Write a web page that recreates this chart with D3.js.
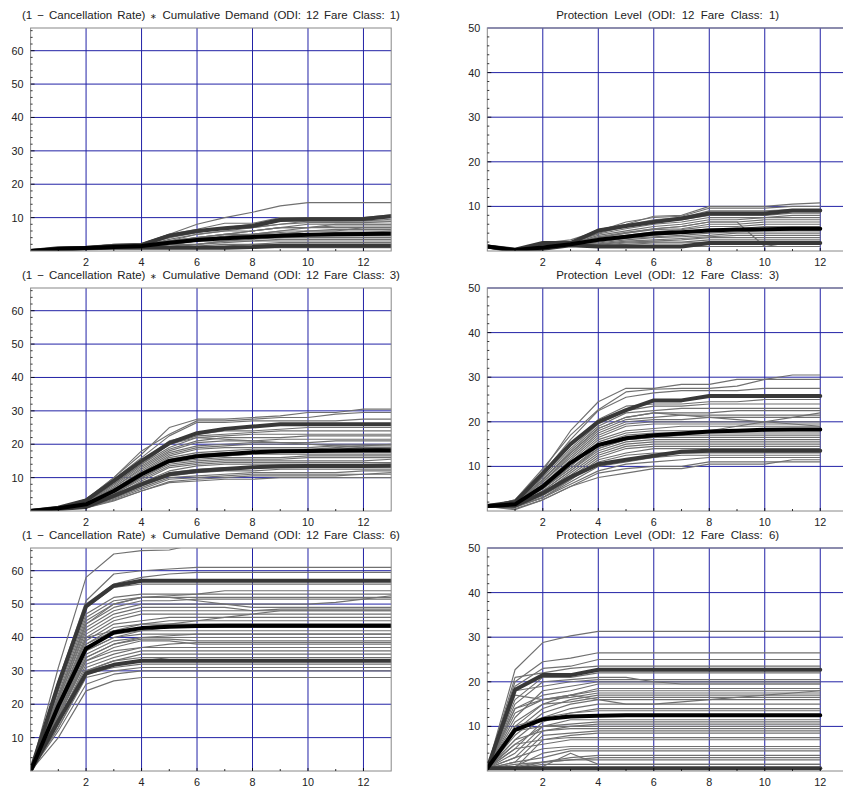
<!DOCTYPE html>
<html>
<head>
<meta charset="utf-8">
<script src="https://cdn.jsdelivr.net/npm/d3@7"></script>
<style>
  body { margin: 0; background: #fff; }
  svg { display: block; font-family: "Liberation Sans", Arial, Helvetica, sans-serif; }
</style>
</head>
<body>
<svg id="chart" width="843" height="789"></svg>
<script>
// ---- data ----
const stepsDemand = [0, 1, 2, 3, 4, 5, 6, 7, 8, 9, 10, 11, 12, 13];
const stepsProtect = [0, 1, 2, 3, 4, 5, 6, 7, 8, 9, 10, 11, 12];
const xTickLabels = [2, 4, 6, 8, 10, 12];
const demandYTicks = [10, 20, 30, 40, 50, 60];
const protectYTicks = [10, 20, 30, 40, 50];
const fareClasses = [1, 3, 6];
const odi = 12;

// fare class 1
const demand1Upper = [0, 0.8, 1, 1.5, 1.8, 4.6, 6, 6.8, 7.5, 9.3, 9.5, 9.5, 9.6, 10.4];
const demand1Mean = [0, 0.6, 0.9, 1.2, 1.5, 2.5, 3.3, 3.8, 4.2, 4.6, 4.9, 5.0, 5.1, 5.2];
const demand1Lower = [0, 0.4, 0.8, 1, 1, 1, 1, 1, 1.2, 1.6, 1.6, 1.6, 1.6, 1.6];
const demand1Gray = [
  [0, 1, 1.2, 2, 2.2, 5, 8, 10, 11.6, 13.5, 14.5, 14.5, 14.5, 14.5],
  [0, 1, 1.2, 2, 2, 5, 6.5, 8.3, 8.3, 10, 10, 10, 10, 10.8],
  [0, 0.8, 1, 1.8, 2, 4.5, 6, 7, 8, 9.8, 9.8, 9.8, 9.8, 10.2],
  [0, 0.6, 1, 1.5, 2, 4, 5.5, 7, 7, 9, 9, 9, 9, 9.5],
  [0, 0.8, 1, 1.2, 1.5, 3.5, 5, 6, 7, 8, 8.5, 8.5, 8.5, 8.8],
  [0, 0.5, 1, 1.2, 2, 3, 5, 6, 6, 7, 8, 8, 8, 8],
  [0, 0.8, 1, 1, 1.5, 3, 4, 5, 6, 7, 7, 7.5, 7.5, 7.5],
  [0, 0.4, 0.8, 1, 2, 3, 4, 5, 5, 6, 7, 7, 7, 7],
  [0, 0.8, 1, 1, 1.2, 2, 4, 4, 5, 6, 6, 6.5, 6.5, 6.5],
  [0, 0.5, 1, 1, 1, 2, 3, 4, 5, 5, 6, 6, 6, 6],
  [0, 0.8, 1, 1, 2, 3, 3, 4, 4, 5, 5, 5.5, 5.5, 5.5],
  [0, 0.4, 1, 1, 1, 2, 3, 3, 4, 4, 4.5, 4.5, 4.5, 4.5],
  [0, 0.8, 1, 1, 1.2, 2, 2, 3, 3.5, 4, 4, 4, 4, 4],
  [0, 0.5, 1, 1, 1, 1.5, 2, 3, 3, 3.5, 3.5, 3.5, 3.5, 3.5],
  [0, 0.8, 1, 1, 1, 1, 2, 2.5, 3, 3, 3, 3, 3, 3],
  [0, 0.4, 0.8, 1, 1, 1, 1.5, 2, 2, 2.5, 2.5, 2.5, 2.5, 2.5],
  [0, 0.6, 1, 1, 1, 1, 1, 1.5, 2, 2, 2, 2, 2, 2],
  [0, 0.4, 0.8, 1, 1, 1, 1, 1, 1, 1.5, 1.5, 1.5, 1.5, 1.5],
  [0, 0.3, 0.6, 1, 1, 1, 1, 1, 1, 1, 1, 1, 1, 1],
  [0, 0.8, 1, 1.5, 2, 4, 6, 7, 7, 8, 9, 9, 9, 9],
  [0, 0.5, 1, 1.2, 1.8, 3, 4, 5, 6, 7, 7, 8, 8, 8],
  [0, 0.8, 1, 1, 1, 2, 3, 4, 4, 5, 6, 6, 7, 7],
  [0, 0.6, 1, 1.2, 1.5, 2.5, 3.5, 4.5, 5, 5.5, 5, 5, 5.5, 6]
];
const protect1Upper = [1, 0.3, 1.8, 1.8, 4.6, 5.6, 6.5, 7.3, 8.4, 8.4, 8.4, 9.1, 9.1];
const protect1Mean = [1, 0.2, 0.8, 1.5, 2.5, 3.2, 3.9, 4.2, 4.6, 4.8, 4.9, 5, 5];
const protect1Lower = [1, 0, 0.5, 1.3, 1, 1, 1, 1, 1.8, 1.8, 1.8, 1.8, 1.8];
const protect1Gray = [
  [1, 0.3, 1.8, 2, 4.8, 6, 7.8, 8, 10, 10, 10, 10.5, 10.8],
  [1, 0.3, 1.8, 2.5, 4.5, 6.5, 7.5, 7.8, 9.6, 9.6, 9.6, 10, 10],
  [1, 0.2, 1.8, 2, 4.3, 5.8, 7, 7.5, 9, 9, 9, 9.3, 9.3],
  [1, 0.2, 1.6, 1.8, 4, 5.5, 6.8, 7, 8, 8, 8, 8.5, 8.5],
  [1, 0.3, 1.5, 1.8, 3.8, 5, 6, 6.5, 7.5, 7.5, 7.5, 8, 8],
  [1, 0.2, 1.5, 1.6, 3.5, 4.5, 5.5, 6, 7, 7, 7.5, 7.5, 7.5],
  [1, 0.2, 1.3, 1.6, 3.2, 4.2, 5, 5.5, 6.5, 6.5, 7, 7, 7],
  [1, 0.2, 1.2, 1.5, 3, 4, 4.8, 5, 6, 6, 6.5, 6.5, 6.5],
  [1, 0.2, 1, 1.5, 2.8, 3.5, 4.3, 4.8, 5.5, 5.5, 6, 6, 6],
  [1, 0.2, 1, 1.5, 2.5, 3.3, 4, 4.3, 5, 5, 5.5, 5.5, 5.5],
  [1, 0.2, 0.9, 1.5, 2.3, 3, 3.5, 4, 4.5, 4.8, 5, 5, 5],
  [1, 0.2, 0.8, 1.5, 2, 2.8, 3.2, 3.5, 4, 4.3, 4.5, 4.5, 4.5],
  [1, 0.2, 0.8, 1.4, 1.8, 2.5, 3, 3.2, 3.5, 4, 4, 4, 4],
  [1, 0.2, 0.7, 1.4, 1.6, 2.2, 2.5, 2.8, 3.2, 3.5, 3.5, 3.5, 3.5],
  [1, 0.2, 0.6, 1.4, 1.5, 2, 2.2, 2.5, 3, 3, 3, 3, 3],
  [1, 0.2, 0.6, 1.4, 1.3, 1.8, 2, 2, 2.5, 2.5, 2.5, 2.5, 2.5],
  [1, 0.2, 0.5, 1.3, 1.2, 1.5, 1.8, 1.8, 2, 2, 2, 2, 2],
  [1, 0.2, 0.5, 1.3, 1, 1.2, 1.2, 1.2, 1.5, 1.5, 1.5, 1.5, 1.5],
  [1, 0.2, 0.5, 1.3, 1, 1, 1, 1, 1, 1, 1, 1, 1],
  [1, 0.2, 1.5, 1.8, 3, 4, 5, 5.5, 6.5, 6.5, 1, 2, 2]
];

// fare class 3
const demand3Upper = [0, 1, 3.2, 9, 15, 20.3, 23.3, 24.6, 25.3, 26, 26, 26, 26, 26];
const demand3Mean = [0, 0.8, 2, 6, 11, 15, 16.4, 17, 17.6, 17.9, 18, 18.1, 18.2, 18.2];
const demand3Lower = [0, 0.6, 1.2, 4.5, 8, 11, 12, 12.6, 13.1, 13.4, 13.5, 13.5, 13.5, 13.6];
const demand3Gray = [
  [0, 1, 3.5, 10, 17, 25, 27.5, 27.5, 28, 28.5, 29.5, 29.5, 30.5, 30.5],
  [0, 1, 3.4, 10, 18, 23, 27, 27, 27.5, 28, 28, 29, 29.5, 29.5],
  [0, 1, 3.2, 9.5, 16, 22.5, 26.5, 26.5, 27, 27, 27, 27, 27.5, 27.5],
  [0, 1, 3, 9, 15, 21, 23, 24, 24, 24.5, 25, 25, 25, 25],
  [0, 1, 2.8, 8.5, 14.5, 20, 22.5, 23, 23.5, 24, 24, 24, 24, 24],
  [0, 0.9, 2.6, 8, 14, 19, 22, 22.5, 23, 23, 23, 23, 23, 23],
  [0, 0.9, 2.5, 7.5, 13.5, 18.5, 21, 22, 22, 22, 22.5, 22.5, 22.5, 22.5],
  [0, 0.9, 2.4, 7, 13, 18, 20.5, 21, 21, 21.5, 21.5, 21.5, 21.5, 21.5],
  [0, 0.9, 2.2, 7, 12.5, 17.5, 19.5, 20, 20.5, 20.5, 20.5, 21, 21, 21],
  [0, 0.8, 2.2, 6.5, 12, 17, 19, 19.5, 20, 20, 20, 20, 20, 20],
  [0, 0.8, 2, 6.5, 11.5, 16.5, 18.5, 19, 19, 19, 19, 19.5, 19.5, 19.5],
  [0, 0.8, 2, 6, 11, 16, 17.5, 18, 18.5, 18.5, 18.5, 18.5, 19, 19],
  [0, 0.8, 1.9, 6, 11, 15.5, 17, 17.5, 17.5, 17.5, 17.5, 17.5, 17.5, 17.5],
  [0, 0.8, 1.8, 5.5, 10.5, 15, 16.5, 16.5, 17, 17, 17, 17, 17, 17],
  [0, 0.7, 1.8, 5.5, 10, 14.5, 15.5, 16, 16, 16, 16.5, 16.5, 16.5, 16.5],
  [0, 0.7, 1.7, 5, 10, 14, 15, 15.5, 15.5, 15.5, 16, 16, 16, 16],
  [0, 0.7, 1.6, 5, 9.5, 13.5, 14.5, 15, 15, 15, 15, 15, 15, 15.5],
  [0, 0.7, 1.5, 4.5, 9, 13, 14, 14.5, 14.5, 14.5, 14.5, 14.5, 14.5, 14.5],
  [0, 0.7, 1.5, 4.5, 8.5, 12, 13.5, 14, 14, 14, 14, 14, 14, 14],
  [0, 0.6, 1.4, 4.2, 8, 11.5, 12.5, 13, 13, 13, 13, 13, 13, 13],
  [0, 0.6, 1.2, 4, 7.5, 10.5, 11.5, 12, 12, 12.5, 12.5, 12.5, 12.5, 12.5],
  [0, 0.6, 1.2, 3.8, 7, 10, 10.5, 11, 11.5, 11.5, 11.5, 11.5, 12, 12],
  [0, 0.6, 1, 3.5, 6.5, 9.5, 10, 10.5, 11, 11, 11, 11, 11, 11.5],
  [0, 0.5, 1, 3.2, 6, 8.5, 9, 9.5, 9.5, 10, 10, 10, 10, 10],
  [0, 0.5, 0.9, 3, 6, 8.8, 9.5, 10, 10.5, 10.5, 10.5, 10.5, 11, 11],
  [0, 0.9, 2.6, 8, 14, 20, 22, 21.5, 21, 20.5, 20, 19.5, 19, 18.5],
  [0, 0.8, 2, 6, 11, 15, 16, 16.5, 17, 18, 18.5, 19, 19.5, 20]
];
const protect3Upper = [1.1, 2, 8.4, 15, 20, 22.6, 24.8, 24.8, 25.8, 25.8, 25.8, 25.8, 25.8];
const protect3Mean = [1.1, 1.5, 5.5, 10.8, 14.8, 16.3, 17, 17.4, 17.8, 18, 18.2, 18.3, 18.3];
const protect3Lower = [1.1, 1.2, 4, 7.6, 10.5, 11.5, 12.4, 13.3, 13.5, 13.5, 13.5, 13.5, 13.5];
const protect3Gray = [
  [1, 2.5, 9, 18, 24.5, 27.5, 27.5, 28.4, 28.4, 29.5, 29.5, 30.5, 30.5],
  [1, 2.5, 9.5, 17, 22.7, 26.7, 27.3, 27.5, 27.5, 28, 29.5, 29.5, 29.5],
  [1, 2.2, 8.5, 16, 22.5, 25.5, 26.5, 27, 27, 27, 27.5, 27.5, 27.5],
  [1.2, 2, 8, 15, 20.5, 23.5, 24, 24, 24.5, 24.5, 25, 25, 25],
  [1, 2, 7.5, 14, 19.5, 22.5, 23.5, 23.5, 24, 24, 24, 24, 24],
  [1.2, 1.8, 7, 13.5, 19, 22, 22.5, 23, 23, 23, 23, 23, 23],
  [1, 1.8, 7, 13, 18.5, 21, 22, 22, 22, 22.5, 22.5, 22.5, 22.5],
  [1.3, 1.7, 6.5, 12.5, 18, 20.5, 21, 21.5, 21.5, 21.5, 21.5, 21.5, 21.5],
  [1, 1.7, 6.5, 12, 17.5, 20, 20.5, 20.5, 21, 21, 21, 21, 21],
  [1, 1.6, 6, 11.5, 17, 19.5, 20, 20, 20, 20, 20, 20, 20],
  [1.1, 1.5, 6, 11, 16.5, 19, 19.5, 19.5, 19.5, 19.5, 19.5, 19.5, 19.5],
  [1, 1.5, 5.5, 10.5, 16, 18, 18.5, 19, 19, 19, 19, 19, 19],
  [1.2, 1.5, 5.5, 10, 15.5, 17.5, 18, 18, 18, 18, 18, 18, 18],
  [1, 1.4, 5, 10, 15, 17, 17.5, 17.5, 17.5, 17.5, 17.5, 17.5, 17.5],
  [1, 1.4, 5, 9.5, 14.5, 16.5, 17, 17, 17, 17, 17, 17, 17],
  [1.1, 1.3, 4.5, 9, 14, 16, 16.5, 16.5, 16.5, 16.5, 16.5, 16.5, 16.5],
  [1, 1.3, 4.5, 9, 13.5, 15.5, 16, 16, 16, 16, 16, 16, 16],
  [1, 1.2, 4, 8.5, 13, 15, 15.5, 15.5, 15.5, 15.5, 15.5, 15.5, 15.5],
  [1.2, 1.2, 4, 8, 12.5, 14.5, 15, 15, 15, 15, 15, 15, 15],
  [1, 1.1, 3.5, 7.5, 12, 14, 14.5, 14.5, 14.5, 14.5, 14.5, 14.5, 14.5],
  [1, 1.1, 3.5, 7, 11.5, 13, 14, 14, 14, 14, 14, 14, 14],
  [1, 1, 3, 7, 11, 12.5, 13, 13, 13, 13, 13, 13, 13],
  [1, 1, 3, 6.5, 10, 11, 12, 12.5, 12.5, 12.5, 12.5, 12.5, 12.5],
  [1, 0.8, 3, 6, 9, 10.5, 11, 11.5, 12, 12, 12, 12, 12],
  [1, 0.5, 2.5, 5.5, 8.5, 9.5, 10, 10, 11, 11, 11, 11, 11],
  [1, 0.3, 2.5, 5.5, 7.5, 8.5, 9.5, 9.5, 10.5, 10.5, 10.5, 11.5, 11.5],
  [1, 1.8, 7, 13, 18.5, 21, 22, 21.5, 21, 20.5, 20, 19.5, 19],
  [1, 1.4, 5, 9.5, 14, 16, 16.5, 17, 18, 19, 20, 21, 22]
];

// fare class 6
const demand6Upper = [0, 26, 49.3, 55.5, 57, 57, 57, 57, 57, 57, 57, 57, 57, 57];
const demand6Mean = [0, 19.5, 36.7, 41.5, 42.8, 43.2, 43.4, 43.5, 43.5, 43.5, 43.5, 43.5, 43.5, 43.5];
const demand6Lower = [0, 15, 29.2, 31.8, 33, 33, 33, 33, 33, 33, 33, 33, 33, 33];
const demand6Gray = [
  [0, 31, 58, 65, 66, 66.2, 68, 68, 68, 68, 68, 68, 68, 68],
  [0, 27, 51, 59, 60, 60.5, 61, 61, 61, 61, 61, 61, 61, 61],
  [0, 26, 50, 56, 58, 59, 59.5, 59.5, 59.5, 59.5, 59.5, 59.5, 59.5, 59.5],
  [0, 25, 49, 55, 56, 56, 56, 56, 56, 56, 56, 56, 56, 56],
  [0, 24, 47, 52, 53, 53, 53, 53, 53, 53, 53, 53, 53, 53],
  [0, 23, 46, 51, 52, 52.5, 53, 54, 54, 54, 54, 54, 54, 54],
  [0, 22, 45, 50, 52, 52, 51, 50, 49, 49, 49, 49, 49, 49],
  [0, 22, 44, 49, 51, 51, 51.5, 51.5, 51.5, 51.5, 51.5, 51.5, 51.5, 51.5],
  [0, 21, 43, 48, 50, 50, 50, 50, 50, 50, 50, 50.5, 51.5, 52.5],
  [0, 21, 42, 47, 49, 49, 49, 49, 48, 48, 48, 48, 48, 48],
  [0, 20, 41, 46, 48, 48, 48, 48, 48, 48.5, 48.5, 48.5, 48.5, 48.5],
  [0, 20, 40, 45, 47, 47, 47, 47, 47, 47, 47, 47, 47, 47],
  [0, 19, 39, 44, 45, 46, 46, 46, 46, 46, 46, 46, 46, 46],
  [0, 19, 38, 43, 44, 45, 45, 45, 45, 45, 45, 45, 45, 45],
  [0, 18, 40, 42, 44, 44, 44, 44, 44, 44, 44, 44, 44, 44],
  [0, 18, 37, 41, 42, 42, 42, 42, 42, 42, 42, 42, 42, 42],
  [0, 17, 36, 40, 41, 41, 41, 41, 41, 41, 41, 41, 41, 41],
  [0, 17, 35, 39, 40, 40, 40, 40, 40, 40, 40, 40, 40, 40],
  [0, 16, 34, 38, 39.5, 39.5, 39, 39, 39, 39, 39, 39, 39, 39],
  [0, 16, 33, 37, 39, 39, 38, 38, 38, 38, 38, 38, 38, 38],
  [0, 16, 33, 36, 37, 38, 38.5, 38.5, 38.5, 38.5, 38.5, 38.5, 38.5, 38.5],
  [0, 15, 32, 35, 37, 37, 37, 37, 37, 37, 37, 37, 37, 37],
  [0, 15, 31, 34, 36, 36, 36, 36, 36, 36, 36, 36, 36, 36],
  [0, 14, 30, 33, 35, 35, 35, 35, 35, 35, 35, 35, 35, 35],
  [0, 14, 30, 33, 34, 34, 34, 34, 34, 34, 34, 34, 34, 34],
  [0, 13, 29, 31, 32, 32, 32, 32, 32, 32, 32, 32, 32, 32],
  [0, 13, 28, 30, 31, 31, 31, 31, 31, 31, 31, 31, 31, 31],
  [0, 12, 26, 29, 30, 30, 30, 30, 30, 30, 30, 30, 30, 30],
  [0, 10, 24, 27, 28, 28, 28, 28, 28, 28, 28, 28, 28, 28],
  [0, 22, 44, 50, 52, 52, 52, 52, 52, 52, 52, 52, 52, 52],
  [0, 19, 38, 42, 43, 44, 45, 46, 47, 48, 48, 48, 48, 48],
  [0, 18, 36, 40, 42, 43, 43, 43, 43, 43, 43, 43, 43, 43],
  [0, 17, 34, 38, 40, 40.5, 41, 41, 41, 41, 41, 41, 41, 41],
  [0, 15, 30, 32, 33, 34, 34, 34, 34, 34, 34, 34, 34, 34]
];
const protect6Upper = [0.6, 18.2, 21.5, 21.5, 22.7, 22.7, 22.7, 22.7, 22.7, 22.7, 22.7, 22.7, 22.7];
const protect6Mean = [0.6, 9.2, 11.6, 12.2, 12.4, 12.5, 12.5, 12.5, 12.5, 12.5, 12.5, 12.5, 12.5];
const protect6Lower = [0.6, 0.6, 0.6, 0.6, 0.6, 0.6, 0.6, 0.6, 0.6, 0.6, 0.6, 0.6, 0.6];
const protect6Gray = [
  [0.6, 22.7, 28.8, 30.3, 31.3, 31.3, 31.3, 31.3, 31.3, 31.3, 31.3, 31.3, 31.3],
  [0.6, 20, 24.5, 25.3, 26.5, 26.5, 26.5, 26.5, 26.5, 26.5, 26.5, 26.5, 26.5],
  [0.6, 19, 23, 23.5, 25, 25, 25, 25, 25, 25, 25, 25, 25],
  [0.6, 21, 22, 23, 23.5, 23.5, 23.5, 23.5, 23.5, 23.5, 23.5, 23.5, 23.5],
  [0.6, 16, 21, 21, 22, 22, 22, 22, 22, 22, 22, 22, 22],
  [0.6, 15, 20, 20.5, 21, 21, 20, 19.5, 19.5, 19.5, 19.5, 19.5, 19.5],
  [0.6, 18, 19, 20, 20.5, 20.5, 20.5, 20.5, 20.5, 20.5, 20.5, 20.5, 20.5],
  [0.6, 12, 18, 19, 20, 20, 20, 20, 20, 20, 20, 20, 20],
  [0.6, 14, 17, 18, 19.5, 19.5, 19.5, 19.5, 19.5, 19.5, 19.5, 19.5, 19.5],
  [0.6, 17, 16, 17, 18.5, 18.5, 18.5, 18.5, 18.5, 18.5, 18.5, 18.5, 18.5],
  [0.6, 10, 15, 17, 18, 18, 18, 18, 18, 18, 18, 18, 18],
  [0.6, 13, 16, 16.5, 17.5, 17.5, 17.5, 17.5, 17.5, 17.5, 17.5, 17.5, 17.5],
  [0.6, 9, 14, 16, 17, 17, 17, 17, 17, 17, 17, 17, 17],
  [0.6, 11, 15, 15.5, 16.5, 16.5, 16.5, 16.5, 16.5, 16.5, 16.5, 16.5, 16.5],
  [0.6, 8, 13, 15, 16, 16, 16, 16, 16, 16, 16, 16, 16],
  [0.6, 7, 12, 14, 15, 15, 15, 15, 15, 15, 15, 15, 15],
  [0.6, 10, 12, 13, 14, 14, 14, 14, 14, 14, 14, 14, 14],
  [0.6, 5, 11, 13, 13.5, 13.5, 13.5, 13.5, 13.5, 13.5, 13.5, 13.5, 13.5],
  [0.6, 6, 10, 11.5, 11.5, 11.5, 11.5, 11.5, 11.5, 11.5, 11.5, 11.5, 11.5],
  [0.6, 4, 10, 10.5, 11, 11, 11, 11, 11, 11, 11, 11, 11],
  [0.6, 9, 10, 10, 10.5, 10.5, 10.5, 10.5, 10.5, 10.5, 10.5, 10.5, 10.5],
  [0.6, 3, 9, 10, 10, 10, 10, 10, 10, 10, 10, 10, 10],
  [0.6, 7, 9, 9.5, 9.5, 9.5, 9.5, 9.5, 9.5, 9.5, 9.5, 9.5, 9.5],
  [0.6, 2, 8, 8.5, 9, 9, 9, 9, 9, 9, 9, 9, 9],
  [0.6, 6, 7, 8, 8.5, 8.5, 8.5, 8.5, 8.5, 8.5, 8.5, 8.5, 8.5],
  [0.6, 0.6, 7, 7.5, 7.5, 7.5, 7.5, 7.5, 7.5, 7.5, 7.5, 7.5, 7.5],
  [0.6, 5, 6, 7, 7, 7, 7, 7, 7, 7, 7, 7, 7],
  [0.6, 3, 5, 5.5, 5.5, 5.5, 5.5, 5.5, 5.5, 5.5, 5.5, 5.5, 5.5],
  [0.6, 1, 4, 5, 5, 5, 5, 5, 5, 5, 5, 5, 5],
  [0.6, 2, 3, 4.5, 4.5, 4.5, 4.5, 4.5, 4.5, 4.5, 4.5, 4.5, 4.5],
  [0.6, 0.6, 1, 4, 1.5, 1.5, 1.5, 1.5, 1.5, 1.5, 1.5, 1.5, 1.5],
  [0.6, 1.5, 2, 3, 3.5, 3.5, 3.5, 3.5, 3.5, 3.5, 3.5, 3.5, 3.5],
  [0.6, 0.6, 2, 2.5, 3, 3, 3, 3, 3, 3, 3, 3, 3],
  [0.6, 1, 2, 2.5, 2.5, 2.5, 2.5, 2.5, 2.5, 2.5, 2.5, 2.5, 2.5],
  [0.6, 0.6, 1.5, 1.5, 1.5, 1.5, 1.5, 1.5, 1.5, 1.5, 1.5, 1.5, 1.5],
  [0.6, 14, 16, 17, 16, 15, 15, 15.5, 16, 16.5, 17, 17.5, 18]
];

// ---- panels ----
const panels = [
  { row: 0, col: 0, steps: stepsDemand, gray: demand1Gray, upper: demand1Upper, mean: demand1Mean, lower: demand1Lower },
  { row: 0, col: 1, steps: stepsProtect, gray: protect1Gray, upper: protect1Upper, mean: protect1Mean, lower: protect1Lower },
  { row: 1, col: 0, steps: stepsDemand, gray: demand3Gray, upper: demand3Upper, mean: demand3Mean, lower: demand3Lower },
  { row: 1, col: 1, steps: stepsProtect, gray: protect3Gray, upper: protect3Upper, mean: protect3Mean, lower: protect3Lower },
  { row: 2, col: 0, steps: stepsDemand, gray: demand6Gray, upper: demand6Upper, mean: demand6Mean, lower: demand6Lower },
  { row: 2, col: 1, steps: stepsProtect, gray: protect6Gray, upper: protect6Upper, mean: protect6Mean, lower: protect6Lower }
];

const svg = d3.select("#chart");
const gridColor = "#2222a6";

panels.forEach((p, i) => {
  const top = 28 + 260 * p.row;
  const bottom = top + 223;
  const [left, right] = p.col === 0 ? [30.6, 391.2] : [487.3, 848];
  const yMax = p.col === 0 ? 66.8 : 50;
  const yTicks = p.col === 0 ? demandYTicks : protectYTicks;
  const fare = fareClasses[p.row];

  const x = d3.scaleLinear().domain([0, 13]).range([left, right]);
  const y = d3.scaleLinear().domain([0, yMax]).range([bottom, top]);

  const g = svg.append("g");

  g.append("clipPath").attr("id", "clip" + i)
    .append("rect")
    .attr("x", left).attr("y", top)
    .attr("width", right - left).attr("height", bottom - top);

  // grid lines
  g.selectAll(".vgrid").data(xTickLabels).join("line")
    .attr("x1", d => x(d)).attr("x2", d => x(d))
    .attr("y1", top).attr("y2", bottom)
    .attr("stroke", gridColor).attr("stroke-width", 1);
  g.selectAll(".hgrid").data(yTicks).join("line")
    .attr("x1", left).attr("x2", right)
    .attr("y1", d => y(d)).attr("y2", d => y(d))
    .attr("stroke", gridColor).attr("stroke-width", 1);

  // series
  const line = d3.line()
    .x((d, j) => x(p.steps[j]))
    .y(d => y(d));
  const data = g.append("g").attr("clip-path", `url(#clip${i})`)
    .attr("fill", "none")
    .attr("stroke-linejoin", "round")
    .attr("stroke-linecap", "round");

  data.selectAll(".path").data(p.gray).join("path")
    .attr("d", line)
    .attr("stroke", "#707070")
    .attr("stroke-width", 1.15);

  data.selectAll(".band").data([p.upper, p.lower]).join("path")
    .attr("d", line)
    .attr("stroke", "#383838")
    .attr("stroke-width", 4);

  data.append("path")
    .attr("d", line(p.mean))
    .attr("stroke", "#000")
    .attr("stroke-width", 4);

  // frame
  g.append("rect")
    .attr("x", left).attr("y", top)
    .attr("width", right - left).attr("height", bottom - top)
    .attr("fill", "none").attr("stroke", "#888").attr("stroke-width", 1);

  // frame ticks
  const yMinor = d3.range(2, yMax, 2);
  g.selectAll(".ytick").data(yMinor).join("line")
    .attr("x1", left).attr("x2", d => left + (d % 10 === 0 ? 4 : 2))
    .attr("y1", d => y(d)).attr("y2", d => y(d))
    .attr("stroke", "#000").attr("stroke-width", 0.8);
  g.selectAll(".xtick").data(d3.range(1, 13)).join("line")
    .attr("x1", d => x(d)).attr("x2", d => x(d))
    .attr("y1", bottom).attr("y2", d => bottom - (d % 2 === 0 ? 3 : 2))
    .attr("stroke", "#000").attr("stroke-width", 0.8);

  // tick labels
  g.selectAll(".ylab").data(yTicks).join("text")
    .attr("x", left - 7).attr("y", d => y(d) + 3.9)
    .attr("text-anchor", "end")
    .attr("font-size", "10.8px").attr("fill", "#222")
    .text(d => d);
  g.selectAll(".xlab").data(xTickLabels).join("text")
    .attr("x", d => x(d)).attr("y", bottom + 15)
    .attr("text-anchor", "middle")
    .attr("font-size", "10.8px").attr("fill", "#222")
    .text(d => d);

  // title
  const title = g.append("text")
    .attr("x", (left + right) / 2).attr("y", top - 9)
    .attr("text-anchor", "middle")
    .attr("font-size", "11.5px").attr("fill", "#222");
  let spaces;
  if (p.col === 0) {
    title.append("tspan").text("(1 \u2212 Cancellation Rate) ");
    title.append("tspan").attr("font-size", "8px").text("\u2217");
    title.append("tspan").text(` Cumulative Demand (ODI: ${odi} Fare Class: ${fare})`);
    spaces = 11;
  } else {
    title.text(`Protection Level (ODI: ${odi} Fare Class: ${fare})`);
    spaces = 6;
  }
  const target = p.col === 0 ? 378 : 223;
  const natural = title.node().getComputedTextLength();
  title.style("word-spacing", Math.max(0, (target - natural) / spaces) + "px");
});
</script>
</body>
</html>
